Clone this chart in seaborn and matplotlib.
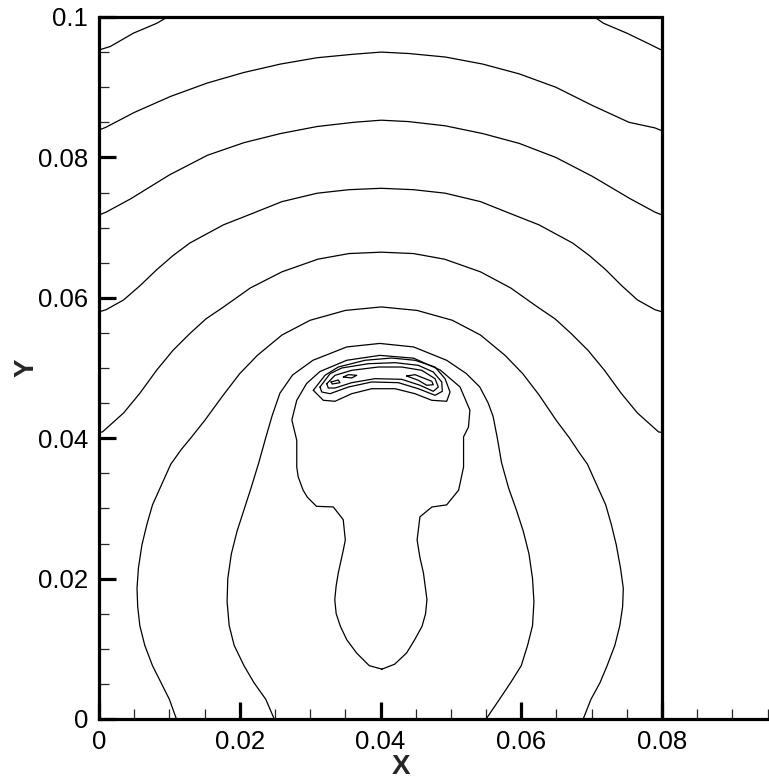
import pandas as pd
import matplotlib
matplotlib.use('Agg')
import matplotlib.pyplot as plt
import seaborn as sns
from matplotlib.ticker import MultipleLocator

# Contour lines (X, Y in metres)
corner_left_x = [0.0, 0.0016, 0.0049, 0.0082, 0.0094, 0.0097]
corner_left_y = [0.0953, 0.0958, 0.0977, 0.0991, 0.0998, 0.1]
corner_right_x = [0.0704, 0.0717, 0.0750, 0.0783, 0.0797, 0.08]
corner_right_y = [0.1, 0.0991, 0.0977, 0.0961, 0.0954, 0.0953]

arc_b_x = [0.0, 0.0010, 0.0050, 0.0102, 0.0154, 0.0206, 0.0258, 0.0310, 0.0362, 0.0401,
           0.0440, 0.0492, 0.0545, 0.0597, 0.0649, 0.0701, 0.0753, 0.0790, 0.08]
arc_b_y = [0.0839, 0.0843, 0.0864, 0.0887, 0.0906, 0.0921, 0.0933, 0.0942, 0.0947, 0.0950,
           0.0948, 0.0943, 0.0933, 0.0919, 0.0900, 0.0874, 0.0850, 0.0842, 0.0838]

arc_c_x = [0.0, 0.0010, 0.0045, 0.0100, 0.0154, 0.0206, 0.0258, 0.0310, 0.0362, 0.0401,
           0.0440, 0.0492, 0.0545, 0.0597, 0.0649, 0.0701, 0.0755, 0.0790, 0.08]
arc_c_y = [0.0718, 0.0722, 0.0741, 0.0775, 0.0803, 0.0821, 0.0834, 0.0844, 0.0850, 0.0853,
           0.0851, 0.0845, 0.0834, 0.0820, 0.0800, 0.0773, 0.0741, 0.0722, 0.0718]

arc_d_x = [0.0, 0.0010, 0.0035, 0.0058, 0.0082, 0.0105, 0.0129, 0.0177, 0.0215, 0.0260, 0.0310,
           0.0355, 0.0401, 0.0447, 0.0492, 0.0542, 0.0587, 0.0625, 0.0673, 0.0697, 0.0720, 0.0743,
           0.0765, 0.0790, 0.08]
arc_d_y = [0.0580, 0.0583, 0.0597, 0.0617, 0.0640, 0.0660, 0.0678, 0.0704, 0.0719, 0.0737, 0.0749,
           0.0754, 0.0756, 0.0754, 0.0749, 0.0737, 0.0719, 0.0704, 0.0678, 0.0660, 0.0640, 0.0617,
           0.0597, 0.0583, 0.0580]

arc_e_x = [0.0, 0.0005, 0.0035, 0.0058, 0.0082, 0.0105, 0.0129, 0.0152, 0.0177, 0.0215, 0.0260,
           0.0311, 0.0355, 0.0401, 0.0447, 0.0491, 0.0542, 0.0585, 0.0623, 0.0648, 0.0671, 0.0695,
           0.0718, 0.0742, 0.0765, 0.0795, 0.08]
arc_e_y = [0.0408, 0.0409, 0.0436, 0.0464, 0.0497, 0.0525, 0.0549, 0.0570, 0.0587, 0.0614, 0.0637,
           0.0655, 0.0663, 0.0665, 0.0663, 0.0655, 0.0637, 0.0614, 0.0587, 0.0570, 0.0549, 0.0525,
           0.0497, 0.0464, 0.0436, 0.0409, 0.0408]

bell_f_x = [0.0110, 0.0100, 0.0088, 0.0076, 0.0065, 0.0058, 0.0055, 0.0054, 0.0056, 0.0061, 0.0068,
            0.0076, 0.0089, 0.0102, 0.0117, 0.0131, 0.0150, 0.0177, 0.0200, 0.0225, 0.0260, 0.0300,
            0.0350, 0.0401, 0.0452, 0.0502, 0.0542, 0.0577, 0.0602, 0.0625, 0.0650, 0.0668, 0.0682,
            0.0694, 0.0707, 0.0720, 0.0728, 0.0735, 0.0741, 0.0745, 0.0744, 0.0740, 0.0733, 0.0722,
            0.0712, 0.0699, 0.0688]
bell_f_y = [0.0, 0.0028, 0.0052, 0.0076, 0.0105, 0.0133, 0.0160, 0.0186, 0.0215, 0.0248, 0.0277,
            0.0305, 0.0334, 0.0363, 0.0384, 0.0401, 0.0425, 0.0462, 0.0492, 0.0518, 0.0547, 0.0568,
            0.0582, 0.0587, 0.0582, 0.0568, 0.0547, 0.0518, 0.0492, 0.0462, 0.0425, 0.0401, 0.0380,
            0.0363, 0.0334, 0.0305, 0.0277, 0.0248, 0.0215, 0.0186, 0.0160, 0.0133, 0.0105, 0.0076,
            0.0052, 0.0028, 0.0]

bell_g_x = [0.0249, 0.0237, 0.0220, 0.0206, 0.0192, 0.0185, 0.0182, 0.0183, 0.0188, 0.0196, 0.0206,
            0.0216, 0.0227, 0.0237, 0.0246, 0.0257, 0.0275, 0.0304, 0.0352, 0.0399, 0.0447, 0.0494,
            0.0522, 0.0541, 0.0553, 0.0560, 0.0566, 0.0572, 0.0582, 0.0593, 0.0603, 0.0611, 0.0616,
            0.0618, 0.0616, 0.0609, 0.0600, 0.0585, 0.0569, 0.0550]
bell_g_y = [0.0, 0.0028, 0.0052, 0.0076, 0.0105, 0.0133, 0.0167, 0.0200, 0.0235, 0.0267, 0.0298,
            0.0329, 0.0365, 0.0401, 0.0432, 0.0464, 0.0490, 0.0511, 0.0530, 0.0535, 0.0530, 0.0511,
            0.0492, 0.0473, 0.0450, 0.0431, 0.0400, 0.0365, 0.0329, 0.0298, 0.0267, 0.0235, 0.0200,
            0.0167, 0.0133, 0.0105, 0.0076, 0.0052, 0.0028, 0.0]

mushroom_x = [0.0402, 0.0384, 0.0366, 0.0352, 0.0343, 0.0337, 0.0335, 0.0337, 0.0340, 0.0347, 0.0350,
              0.0347, 0.0333, 0.0309, 0.0296, 0.0290, 0.0283, 0.0281, 0.0281, 0.0274, 0.0281, 0.0295,
              0.0314, 0.0352, 0.0399, 0.0447, 0.0485, 0.0513, 0.0527, 0.0525, 0.0518, 0.0518, 0.0511,
              0.0494, 0.0473, 0.0456, 0.0452, 0.0456, 0.0461, 0.0466, 0.0464, 0.0459, 0.0448, 0.0437,
              0.0420, 0.0402]
mushroom_y = [0.0071, 0.0076, 0.0094, 0.0113, 0.0132, 0.0150, 0.0170, 0.0190, 0.0208, 0.0240, 0.0255,
              0.0284, 0.0302, 0.0303, 0.0316, 0.0326, 0.0345, 0.0359, 0.0397, 0.0426, 0.0454, 0.0478,
              0.0495, 0.0511, 0.0518, 0.0514, 0.0497, 0.0473, 0.0440, 0.0416, 0.0402, 0.0359, 0.0326,
              0.0305, 0.0302, 0.0288, 0.0255, 0.0230, 0.0208, 0.0170, 0.0150, 0.0132, 0.0112, 0.0094,
              0.0078, 0.0071]

band_1_x = [0.03045, 0.03211, 0.03400, 0.03780, 0.04159, 0.04490, 0.04775, 0.04917, 0.04988, 0.04941,
            0.04728, 0.04490, 0.04206, 0.03875, 0.03591, 0.03354, 0.03187, 0.03045]
band_1_y = [0.04682, 0.04896, 0.05014, 0.05110, 0.05142, 0.05110, 0.05014, 0.04848, 0.04658, 0.04526,
            0.04540, 0.04634, 0.04705, 0.04705, 0.04634, 0.04526, 0.04540, 0.04682]

band_2_x = [0.03140, 0.03283, 0.03449, 0.03827, 0.04206, 0.04537, 0.04750, 0.04870, 0.04878, 0.04775,
            0.04537, 0.04253, 0.03875, 0.03543, 0.03283, 0.03165, 0.03140]
band_2_y = [0.04729, 0.04919, 0.05000, 0.05061, 0.05076, 0.05038, 0.04943, 0.04801, 0.04668, 0.04611,
            0.04705, 0.04791, 0.04801, 0.04729, 0.04634, 0.04658, 0.04729]

band_3_x = [0.03236, 0.03354, 0.03591, 0.03969, 0.04301, 0.04586, 0.04775, 0.04821, 0.04750, 0.04561,
            0.04301, 0.03922, 0.03591, 0.03354, 0.03258, 0.03236]
band_3_y = [0.04776, 0.04896, 0.04967, 0.05014, 0.05014, 0.04967, 0.04848, 0.04729, 0.04668, 0.04754,
            0.04839, 0.04848, 0.04791, 0.04715, 0.04715, 0.04776]

blob_1_x = [0.03297, 0.03400, 0.03425, 0.03315, 0.03297]
blob_1_y = [0.04801, 0.04829, 0.04791, 0.04772, 0.04801]
blob_2_x = [0.03472, 0.03543, 0.03662, 0.03591, 0.03472]
blob_2_y = [0.04872, 0.04905, 0.04896, 0.04858, 0.04872]
blob_3_x = [0.04372, 0.04490, 0.04728, 0.04750, 0.04657, 0.04537, 0.04372]
blob_3_y = [0.04886, 0.04905, 0.04811, 0.04762, 0.04754, 0.04825, 0.04886]

# domain box and axis ticks
domain_w = 0.08
domain_h = 0.1
x_ticks = [0, 0.02, 0.04, 0.06, 0.08]
x_ticklabels = ['0', '0.02', '0.04', '0.06', '0.08']
y_ticks = [0, 0.02, 0.04, 0.06, 0.08, 0.1]
y_ticklabels = ['0', '0.02', '0.04', '0.06', '0.08', '0.1']

curves = {
    'corner_left': (corner_left_x, corner_left_y),
    'corner_right': (corner_right_x, corner_right_y),
    'b': (arc_b_x, arc_b_y),
    'c': (arc_c_x, arc_c_y),
    'd': (arc_d_x, arc_d_y),
    'e': (arc_e_x, arc_e_y),
    'f': (bell_f_x, bell_f_y),
    'g': (bell_g_x, bell_g_y),
    'mushroom': (mushroom_x, mushroom_y),
    'band1': (band_1_x, band_1_y),
    'band2': (band_2_x, band_2_y),
    'band3': (band_3_x, band_3_y),
    'blob1': (blob_1_x, blob_1_y),
    'blob2': (blob_2_x, blob_2_y),
    'blob3': (blob_3_x, blob_3_y),
}
rows = []
for name, (xs, ys) in curves.items():
    for i, (xv, yv) in enumerate(zip(xs, ys)):
        rows.append({'contour': name, 'order': i, 'X': xv, 'Y': yv})
df = pd.DataFrame(rows)

sns.set_style('white')
plt.rcParams['font.family'] = ['Liberation Sans', 'DejaVu Sans']

fig = plt.figure(figsize=(7.69, 7.84), dpi=100)
ax = fig.add_axes([99 / 769, 65 / 784, 670 / 769, 702 / 784])

sns.lineplot(data=df, x='X', y='Y', units='contour', estimator=None, sort=False,
             color='black', linewidth=0.9, ax=ax, legend=False)

# domain boundary (top and right walls)
ax.plot([0, domain_w, domain_w], [domain_h, domain_h, 0], color='black',
        linewidth=2.3, solid_joinstyle='miter', clip_on=False)

ax.set_xlim(0, 0.0952)
ax.set_ylim(0, domain_h)

ax.spines['top'].set_visible(False)
ax.spines['right'].set_visible(False)
for s in ['left', 'bottom']:
    ax.spines[s].set_linewidth(2.3)
    ax.spines[s].set_color('black')

ax.set_xticks(x_ticks)
ax.set_xticklabels(x_ticklabels)
ax.set_yticks(y_ticks)
ax.set_yticklabels(y_ticklabels)
ax.xaxis.set_minor_locator(MultipleLocator(0.005))
ax.yaxis.set_minor_locator(MultipleLocator(0.005))
ax.tick_params(which='major', direction='in', length=12, width=2.3, labelsize=18.5, pad=8,
               bottom=True, left=True, colors='black')
ax.tick_params(which='minor', direction='in', length=7, width=0.9, bottom=True, left=True)

ax.set_xlabel('X', fontsize=20, fontweight='bold')
ax.set_ylabel('Y', fontsize=20, fontweight='bold')
ax.xaxis.set_label_coords(0.45, -0.05)
ax.yaxis.set_label_coords(-0.088, 0.5)

fig.savefig('out.png', dpi=100)
